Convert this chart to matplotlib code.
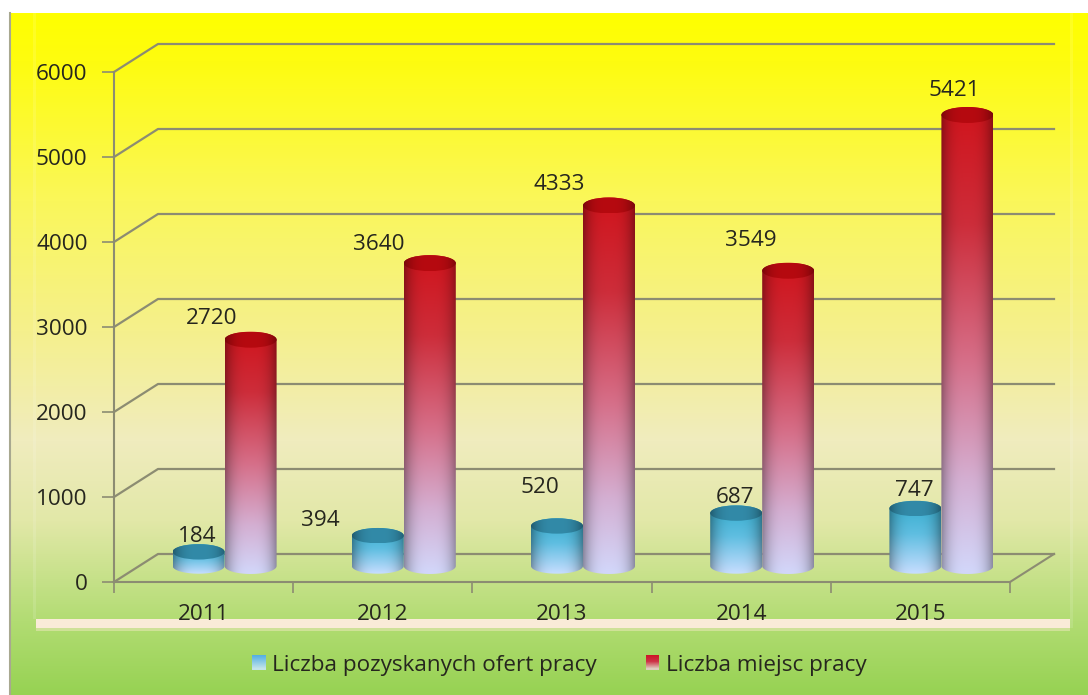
import numpy as np
import matplotlib
matplotlib.use("Agg")
import matplotlib.pyplot as plt
from matplotlib.legend_handler import HandlerBase
from matplotlib.patches import Ellipse, Polygon, Rectangle

years = ["2011", "2012", "2013", "2014", "2015"]
oferty = [184, 394, 520, 687, 747]
miejsca = [2720, 3640, 4333, 3549, 5421]
name_oferty = "Liczba pozyskanych ofert pracy"
name_miejsca = "Liczba miejsc pracy"
y_ticks = [0, 1000, 2000, 3000, 4000, 5000, 6000]

W, H = 1088, 695
FONT = "Open Sans"
FS = 16.2
TEXT = "#26261e"
LINE = "#8c8c72"

# gradient stops, 0 = top of the bar, 1 = bottom
BLUE_STOPS = [(0, (52, 172, 205)), (0.45, (95, 190, 225)), (1, (200, 222, 255))]
RED_STOPS = [(0, (208, 20, 28)), (0.25, (205, 45, 58)), (0.55, (214, 112, 138)),
             (0.8, (212, 175, 210)), (1, (210, 215, 250))]
LEG_BLUE = [(0, (85, 175, 228)), (1, (195, 228, 232))]
LEG_RED = [(0, (205, 22, 40)), (0.45, (205, 50, 70)), (1, (222, 205, 190))]

# label offsets in px from the top of the bar, not data
OFF_OFERTY = [(-1, 15), (-57, 15), (-17, 38), (-1, 16), (-1, 18)]
OFF_MIEJSCA = [(-39, 21), (-51, 19), (-50, 21), (-37, 30), (-13, 24)]


def px_axes(fig, x0, x1, y0, y1):
    # axes from pixel box, y measured from the top of the picture
    return fig.add_axes([x0 / W, (H - y0) / H, (x1 - x0) / W, (y0 - y1) / H])


def shaded(stops, n=160):
    t = np.linspace(0, 1, n)
    pos = [s[0] for s in stops]
    rgb = np.stack([np.interp(t, pos, [s[1][c] for s in stops]) for c in range(3)], axis=1)
    u = np.linspace(-1, 1, 80)
    shade = 1.0 - 0.34 * np.abs(u) ** 3.0
    return np.clip(rgb[:, None, :] * shade[None, :, None] / 255.0, 0, 1)


def cylinder(ax, x, width, value, stops, cap, ry, zorder):
    x0, x1 = x - width / 2, x + width / 2
    th = np.linspace(np.pi, 2 * np.pi, 50)
    xs = x + width / 2 * np.cos(th)
    low = np.column_stack([xs, ry * np.sin(th)])
    up = np.column_stack([xs[::-1], value - ry * np.sin(th)[::-1]])
    clip = Polygon(np.vstack([low, up]), transform=ax.transData, fc="none", ec="none")
    ax.add_patch(clip)
    body = ax.imshow(shaded(stops), extent=[x0, x1, -ry, value + ry], aspect="auto",
                     zorder=zorder, interpolation="bilinear")
    # images fall back on the axes box when they have none, and the base hangs below it
    body.set_clip_box(ax.figure.bbox)
    body.set_clip_path(clip)
    top = Ellipse((x, value), width, 2 * ry, transform=ax.transData, fc="none", ec="none")
    ax.add_patch(top)
    lid = ax.imshow(shaded([(0, cap), (1, cap)], 4), extent=[x0, x1, value - ry, value + ry],
                    aspect="auto", zorder=zorder + 0.1, interpolation="bilinear")
    lid.set_clip_box(ax.figure.bbox)
    lid.set_clip_path(top)


class GradientHandle(HandlerBase):
    def __init__(self, stops):
        super().__init__()
        self.stops = stops

    def create_artists(self, legend, orig, xd, yd, width, height, fontsize, trans):
        n = 14
        t = np.linspace(0, 1, n)
        pos = [s[0] for s in self.stops]
        side_x, side_y = 10.0, 10.5
        x0 = -xd + (width - side_x) / 2
        y0 = (height - side_y) / 2 - yd
        out = []
        for i in range(n):
            col = [np.interp(t[i], pos, [s[1][c] for s in self.stops]) / 255.0 for c in range(3)]
            r = Rectangle((x0, y0 + side_y * (n - 1 - i) / n), side_x, side_y / n + 0.3,
                          fc=col, ec="none", transform=trans)
            out.append(r)
        return out


plt.rcParams["font.family"] = [FONT, "DejaVu Sans"]
fig = plt.figure(figsize=(W / 100, H / 100), dpi=100, facecolor="white")

# background of the picture
bg = fig.add_axes([0, 0, 1, 1])
bg.set_xlim(0, W)
bg.set_ylim(H, 0)
bg.axis("off")
stops_y = [13, 60, 200, 330, 440, 520, 620, 695]
cols = np.array([(255, 255, 0), (254, 252, 15), (250, 247, 90), (245, 240, 140),
                 (240, 236, 190), (226, 232, 168), (178, 220, 115), (150, 210, 82)]) / 255.0
yy = np.arange(13, 695)
grad = np.stack([np.interp(yy, stops_y, cols[:, c]) for c in range(3)], axis=1)[:, None, :]
bg.imshow(grad, extent=[10, W, 695, 13], aspect="auto", zorder=0)
bg.set_xlim(0, W)
bg.set_ylim(H, 0)
bg.plot([9.5, 9.5], [13, 695], color="#a8a890", lw=1.5, zorder=1)
bg.add_patch(Rectangle((36, 619), 1034, 9, fc="#faebd7", ec="none", zorder=2))
bg.add_patch(Rectangle((36, 628), 1034, 3, fc="#f0e8c0", ec="none", alpha=0.5, zorder=2))
bg.add_patch(Rectangle((33, 13), 3, 606, fc="white", ec="none", alpha=0.12, zorder=2))
bg.add_patch(Rectangle((1070, 13), 3, 615, fc="white", ec="none", alpha=0.12, zorder=2))

# front plane of the box: walls, ticks, labels
ax = px_axes(fig, 114, 1010, 582, 72)
ax.patch.set_alpha(0)
ax.set_xlim(0, len(years))
ax.set_ylim(y_ticks[0], y_ticks[-1])
ax.set_yticks(y_ticks)
ax.set_xticks(np.arange(len(years) + 1))
ax.set_xticks(np.arange(len(years)) + 0.5, years, minor=True)
ax.set_xticklabels([])
ax.tick_params(axis="y", length=9, width=1.2, color=LINE, pad=10, labelsize=FS, labelcolor=TEXT)
ax.tick_params(axis="x", which="major", length=8, width=1.2, color=LINE)
ax.tick_params(axis="x", which="minor", length=0, pad=16, labelsize=FS, labelcolor=TEXT)
for t in ax.get_yticklabels():
    t.set_verticalalignment("center_baseline")
for s in ("top", "right"):
    ax.spines[s].set_visible(False)
for s in ("left", "bottom"):
    ax.spines[s].set_color(LINE)
    ax.spines[s].set_linewidth(1.5)

depth_x = 44 / (896 / len(years))
depth_y = 28 / (510 / y_ticks[-1])
for v in y_ticks:
    ax.plot([0, depth_x, len(years) + depth_x], [v, v + depth_y, v + depth_y],
            color=LINE, lw=1.6, clip_on=False, zorder=1)
ax.plot([len(years), len(years) + depth_x], [0, depth_y], color=LINE, lw=1.5, clip_on=False, zorder=1)

# bars sit inside the box depth, so they get their own axes; the front series
# has a slightly flatter scale in the picture
blue_ax = px_axes(fig, 135, 1031, 566, 566 - 6000 * 0.077)
red_ax = px_axes(fig, 135, 1031, 566, 566 - 6000 * 0.0832)
bar_w = 52 / (896 / len(years))
for a in (blue_ax, red_ax):
    a.patch.set_alpha(0)
    a.axis("off")
for i in range(len(years)):
    cylinder(blue_ax, i + 0.5 - bar_w / 2, bar_w, oferty[i], BLUE_STOPS, (50, 138, 168), 100, 3)
    cylinder(red_ax, i + 0.5 + bar_w / 2, bar_w, miejsca[i], RED_STOPS, (182, 10, 16), 96, 3)
    red_ax.annotate(str(oferty[i]), (i + 0.5 - bar_w / 2, oferty[i] * 0.077 / 0.0832), xytext=OFF_OFERTY[i],
                    textcoords="offset pixels", ha="center", va="center", fontsize=FS,
                    color=TEXT, zorder=20, annotation_clip=False)
    red_ax.annotate(str(miejsca[i]), (i + 0.5 + bar_w / 2, miejsca[i]), xytext=OFF_MIEJSCA[i],
                    textcoords="offset pixels", ha="center", va="center", fontsize=FS,
                    color=TEXT, zorder=20, annotation_clip=False)
for a in (blue_ax, red_ax):
    a.set_xlim(0, len(years))
    a.set_ylim(y_ticks[0], y_ticks[-1])

h1, h2 = Rectangle((0, 0), 1, 1), Rectangle((0, 0), 1, 1)
fig.legend([h1, h2], [name_oferty, name_miejsca],
           handler_map={h1: GradientHandle(LEG_BLUE), h2: GradientHandle(LEG_RED)},
           loc="center", bbox_to_anchor=(559 / W, (H - 665) / H), ncol=2, frameon=False,
           fontsize=FS, labelcolor=TEXT, handlelength=0.62, handletextpad=0.27, columnspacing=2.18)

fig.savefig("out.png", dpi=100)
